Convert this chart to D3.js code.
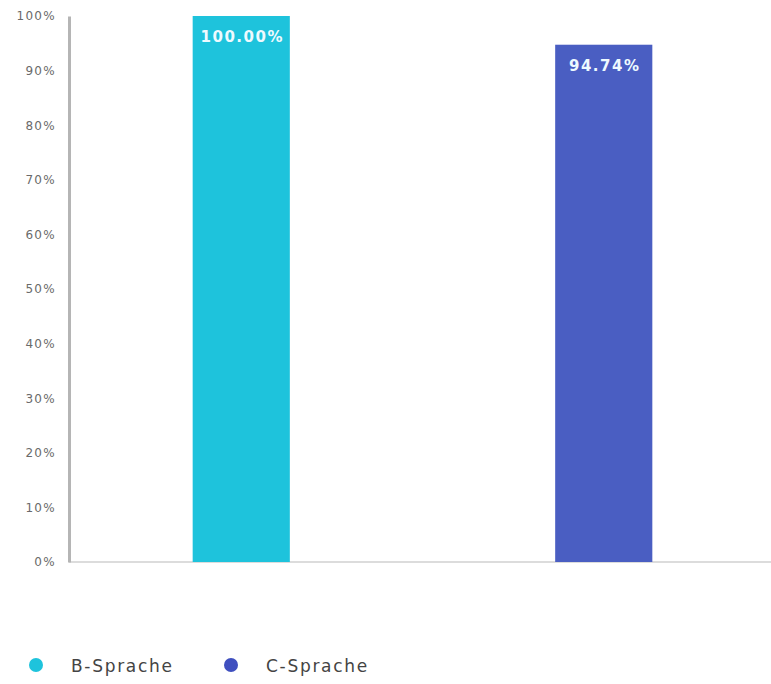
<!DOCTYPE html>
<html><head><meta charset="utf-8">
<script src="https://cdn.jsdelivr.net/npm/d3@7"></script>
<style>body{margin:0;background:#fff}svg{display:block}</style>
</head><body>
<svg id="c" width="771" height="684"></svg>
<script>
const categories = ["B-Sprache", "C-Sprache"];
const values = [100.00, 94.74];
const colors = ["#1ec3dc", "#4a5ec2"];
const legendColors = ["#1ec3dc", "#3f4fbf"];
const yTicks = [0,10,20,30,40,50,60,70,80,90,100];

const svg = d3.select("#c");
const font = "DejaVu Sans, Verdana, sans-serif";
const y = d3.scaleLinear().domain([0,100]).range([562,16]);
const x = d3.scaleBand().domain(categories).range([60,785]).paddingInner(0.732).paddingOuter(0.366);

// baseline
svg.append("line").attr("x1",69).attr("x2",771).attr("y1",y(0)).attr("y2",y(0))
  .attr("stroke","#dcdcdc").attr("stroke-width",2);

// bars
svg.selectAll("rect.bar").data(categories).enter().append("rect")
  .attr("x",d=>x(d)).attr("width",x.bandwidth())
  .attr("y",(d,i)=>y(values[i])).attr("height",(d,i)=>y(0)-y(values[i]))
  .attr("fill",(d,i)=>colors[i]);

// value labels
svg.selectAll("text.val").data(categories).enter().append("text")
  .attr("x",d=>x(d)+x.bandwidth()/2+1).attr("y",(d,i)=>y(values[i])+26)
  .attr("text-anchor","middle").attr("fill","#eefaff")
  .attr("font-family",font).attr("font-size",15).attr("font-weight","bold")
  .attr("letter-spacing","1.5")
  .text((d,i)=>values[i].toFixed(2)+"%");

// y axis
const ax = svg.append("g").attr("transform","translate(69,0)")
  .call(d3.axisLeft(y).tickValues(yTicks).tickFormat(d=>d+"%").tickSize(0).tickPadding(13));
ax.select(".domain").attr("stroke","#b5b5b5").attr("stroke-width",3);
ax.selectAll("text").attr("font-family",font).attr("font-size",12).attr("fill","#6a6a6a")
  .attr("letter-spacing","1.3");

// legend
const lx = [36, 231];
const lg = svg.selectAll("g.leg").data(categories).enter().append("g")
  .attr("transform",(d,i)=>`translate(${lx[i]},665)`);
lg.append("circle").attr("r",7).attr("fill",(d,i)=>legendColors[i]);
lg.append("text").attr("x",35).attr("y",7).attr("font-family",font).attr("font-size",17)
  .attr("letter-spacing","1.7").attr("fill","#444").text(d=>d);
</script>
</body></html>
